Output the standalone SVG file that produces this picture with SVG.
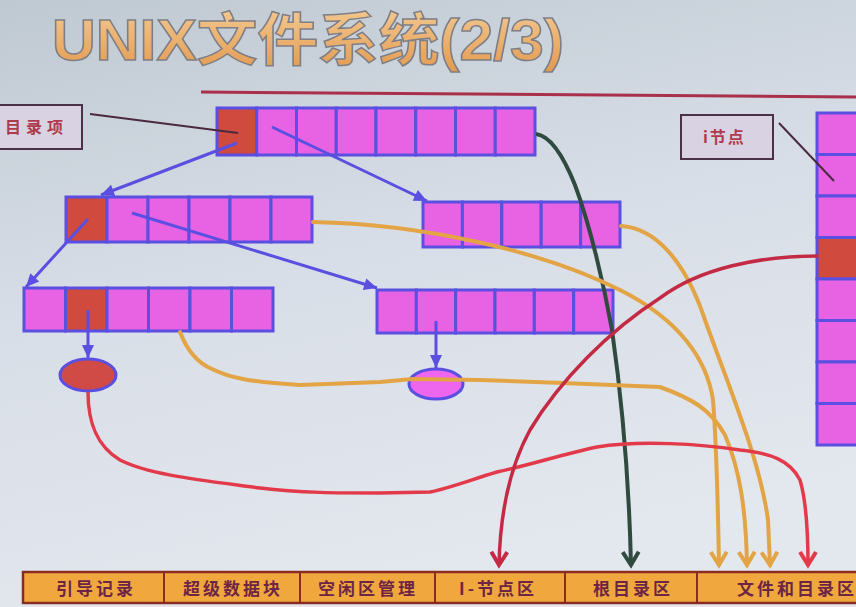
<svg xmlns="http://www.w3.org/2000/svg" width="856" height="607" viewBox="0 0 856 607">
<defs>
<linearGradient id="bg" x1="0" y1="0" x2="0.3" y2="1">
<stop offset="0" stop-color="#bfc9d1"/>
<stop offset="0.5" stop-color="#d8dee7"/>
<stop offset="1" stop-color="#e3e7ee"/>
</linearGradient>
<linearGradient id="tg" x1="0" y1="0" x2="0" y2="1">
<stop offset="0" stop-color="#f3c890"/>
<stop offset="1" stop-color="#e39a50"/>
</linearGradient>
<marker id="ab" markerUnits="userSpaceOnUse" markerWidth="16" markerHeight="16" viewBox="-14 -8 16 16" refX="0" refY="0" orient="auto">
<path d="M-13,-6 L0,0 L-13,6 Z" fill="#5a4fe0"/>
</marker>
<marker id="ag" markerUnits="userSpaceOnUse" markerWidth="20" markerHeight="20" viewBox="-16 -10 20 20" refX="0" refY="0" orient="auto">
<path d="M-13,-8 L0,0 L-13,8" fill="none" stroke="#2f4a3e" stroke-width="4"/>
</marker>
<marker id="ao" markerUnits="userSpaceOnUse" markerWidth="20" markerHeight="20" viewBox="-16 -10 20 20" refX="0" refY="0" orient="auto">
<path d="M-13,-8 L0,0 L-13,8" fill="none" stroke="#e3a445" stroke-width="4"/>
</marker>
<marker id="ar" markerUnits="userSpaceOnUse" markerWidth="20" markerHeight="20" viewBox="-16 -10 20 20" refX="0" refY="0" orient="auto">
<path d="M-13,-8 L0,0 L-13,8" fill="none" stroke="#e23a4a" stroke-width="4"/>
</marker>
<marker id="ad" markerUnits="userSpaceOnUse" markerWidth="20" markerHeight="20" viewBox="-16 -10 20 20" refX="0" refY="0" orient="auto">
<path d="M-13,-8 L0,0 L-13,8" fill="none" stroke="#c42a44" stroke-width="4"/>
</marker>
</defs>
<style>
.c{fill:#e862e4;stroke:#5a4fe0;stroke-width:3}
.r{fill:#d04a3e;stroke:#5a4fe0;stroke-width:3}
.lbl{fill:#d8d2e2;stroke:#4a3048;stroke-width:2}
.lt{font-family:"Noto Sans CJK SC","Liberation Serif",serif;font-weight:bold;font-size:16px;fill:#b03a4c;letter-spacing:5px}
.bt{font-family:"Noto Sans CJK SC","Liberation Serif",serif;font-weight:bold;font-size:17px;fill:#6e2444;letter-spacing:3px;text-anchor:middle}
.bl{stroke:#5a4fe0;stroke-width:3;fill:none}
.o{stroke:#e3a445;stroke-width:4;fill:none;stroke-linecap:round;stroke-linejoin:round}
</style>
<rect x="0" y="0" width="856" height="607" fill="url(#bg)"/>
<text x="52" y="60" font-family="'Liberation Sans','Noto Sans CJK SC',sans-serif" font-weight="bold" font-size="57" fill="url(#tg)" stroke="#7e7e84" stroke-width="1.5" textLength="512" lengthAdjust="spacingAndGlyphs">UNIX文件系统(2/3)</text>
<line x1="201" y1="92" x2="856" y2="97" stroke="#a8304a" stroke-width="3"/>

<g id="label-dir">
<rect class="lbl" x="-2" y="105" width="84" height="44"/>
<text class="lt" x="5" y="133">目录项</text>
</g>
<g id="label-inode">
<rect class="lbl" x="681" y="115" width="92" height="44"/>
<text class="lt" x="703" y="143" style="letter-spacing:2px">i节点</text>
</g>

<g id="row-top">
<rect class="r" x="217" y="108" width="39.75" height="47"/>
<rect class="c" x="256.75" y="108" width="39.75" height="47"/>
<rect class="c" x="296.5" y="108" width="39.75" height="47"/>
<rect class="c" x="336.25" y="108" width="39.75" height="47"/>
<rect class="c" x="376" y="108" width="39.75" height="47"/>
<rect class="c" x="415.75" y="108" width="39.75" height="47"/>
<rect class="c" x="455.5" y="108" width="39.75" height="47"/>
<rect class="c" x="495.25" y="108" width="39.75" height="47"/>
</g>
<g id="row2-left">
<rect class="r" x="66" y="197" width="41" height="45"/>
<rect class="c" x="107" y="197" width="41" height="45"/>
<rect class="c" x="148" y="197" width="41" height="45"/>
<rect class="c" x="189" y="197" width="41" height="45"/>
<rect class="c" x="230" y="197" width="41" height="45"/>
<rect class="c" x="271" y="197" width="41" height="45"/>
</g>
<g id="row2-right">
<rect class="c" x="423" y="202" width="39.4" height="45"/>
<rect class="c" x="462.4" y="202" width="39.4" height="45"/>
<rect class="c" x="501.8" y="202" width="39.4" height="45"/>
<rect class="c" x="541.2" y="202" width="39.4" height="45"/>
<rect class="c" x="580.6" y="202" width="39.4" height="45"/>
</g>
<g id="row3-left">
<rect class="c" x="24" y="288" width="41.5" height="43"/>
<rect class="r" x="65.5" y="288" width="41.5" height="43"/>
<rect class="c" x="107" y="288" width="41.5" height="43"/>
<rect class="c" x="148.5" y="288" width="41.5" height="43"/>
<rect class="c" x="190" y="288" width="41.5" height="43"/>
<rect class="c" x="231.5" y="288" width="41.5" height="43"/>
</g>
<g id="row3-right">
<rect class="c" x="377" y="290" width="39.33" height="43"/>
<rect class="c" x="416.33" y="290" width="39.33" height="43"/>
<rect class="c" x="455.67" y="290" width="39.33" height="43"/>
<rect class="c" x="495" y="290" width="39.33" height="43"/>
<rect class="c" x="534.33" y="290" width="39.33" height="43"/>
<rect class="c" x="573.67" y="290" width="39.33" height="43"/>
</g>
<g id="inode-table">
<rect class="c" x="817" y="113" width="45" height="41.5"/>
<rect class="c" x="817" y="154.5" width="45" height="41.5"/>
<rect class="c" x="817" y="196" width="45" height="41.5"/>
<rect class="r" x="817" y="237.5" width="45" height="41.5"/>
<rect class="c" x="817" y="279" width="45" height="41.5"/>
<rect class="c" x="817" y="320.5" width="45" height="41.5"/>
<rect class="c" x="817" y="362" width="45" height="41.5"/>
<rect class="c" x="817" y="403.5" width="45" height="41.5"/>
</g>
<g id="file-red">
<ellipse cx="88" cy="375" rx="28" ry="16" fill="#d04a46" stroke="#5a4fe0" stroke-width="3"/>
</g>
<g id="file-pink">
<ellipse cx="436" cy="384" rx="27" ry="15" fill="#ee66ee" stroke="#5a4fe0" stroke-width="3"/>
</g>

<g id="disk-layout">
<rect x="23" y="572" width="840" height="31" fill="#f0a83e" stroke="#8a2c22" stroke-width="2.5"/>
<line x1="164" y1="572" x2="164" y2="603" stroke="#8a2c22" stroke-width="2"/>
<line x1="300" y1="572" x2="300" y2="603" stroke="#8a2c22" stroke-width="2"/>
<line x1="435" y1="572" x2="435" y2="603" stroke="#8a2c22" stroke-width="2"/>
<line x1="565" y1="572" x2="565" y2="603" stroke="#8a2c22" stroke-width="2"/>
<line x1="697" y1="572" x2="697" y2="603" stroke="#8a2c22" stroke-width="2"/>
<text class="bt" x="96" y="595">引导记录</text>
<text class="bt" x="233" y="595">超级数据块</text>
<text class="bt" x="368" y="595">空闲区管理</text>
<text class="bt" x="498" y="595">I-节点区</text>
<text class="bt" x="633" y="595">根目录区</text>
<text class="bt" x="797" y="595">文件和目录区</text>
</g>

<g id="connectors">
<line x1="90" y1="114" x2="238" y2="133" stroke="#4a2a3e" stroke-width="2"/>
<line x1="779" y1="123" x2="834" y2="181" stroke="#4a2a3e" stroke-width="2"/>
<line class="bl" x1="237" y1="143" x2="101" y2="195" marker-end="url(#ab)"/>
<line class="bl" x1="272" y1="127" x2="427" y2="201" marker-end="url(#ab)"/>
<line class="bl" x1="88" y1="219" x2="26" y2="287" marker-end="url(#ab)"/>
<line class="bl" x1="132" y1="213" x2="377" y2="288" marker-end="url(#ab)"/>
<line class="bl" x1="88" y1="310" x2="88" y2="358" marker-end="url(#ab)"/>
<line class="bl" x1="436" y1="321" x2="436" y2="368" marker-end="url(#ab)"/>
<path d="M536,134 C552,136 565,160 575,185 C590,225 604,285 612,330 C622,400 629,480 631,565" fill="none" stroke="#2f4a3e" stroke-width="4" marker-end="url(#ag)"/>
<path class="o" d="M313,222 C420,224 540,250 620,290 C680,320 707,360 713,400 C717,450 718,510 719,565" marker-end="url(#ao)"/>
<path class="o" d="M621,226 C655,228 685,260 705,320 C730,390 760,460 768,520 L770,565" marker-end="url(#ao)"/>
<path class="o" d="M180,332 C185,345 195,362 212,369 C230,378 250,382 300,385 L380,382 L413,379 L480,380 L563,383 L660,387 C690,398 710,408 725,435 C740,470 746,510 747,565" marker-end="url(#ao)"/>
<path d="M88,392 C88,420 95,445 120,460 C150,475 200,480 260,488 C300,493 340,493 380,493 L430,492 C450,488 470,480 497,472 C530,465 560,455 597,447 C640,440 700,444 740,450 C770,453 790,460 800,480 C806,500 808,530 808,565" fill="none" stroke="#e23a4a" stroke-width="3.5" stroke-linejoin="round" marker-end="url(#ar)"/>
<path d="M818,256 C760,256 700,268 660,298 C610,330 560,380 530,430 C508,470 500,520 499,565" fill="none" stroke="#c42a44" stroke-width="3.5" marker-end="url(#ad)"/>
</g>
</svg>
